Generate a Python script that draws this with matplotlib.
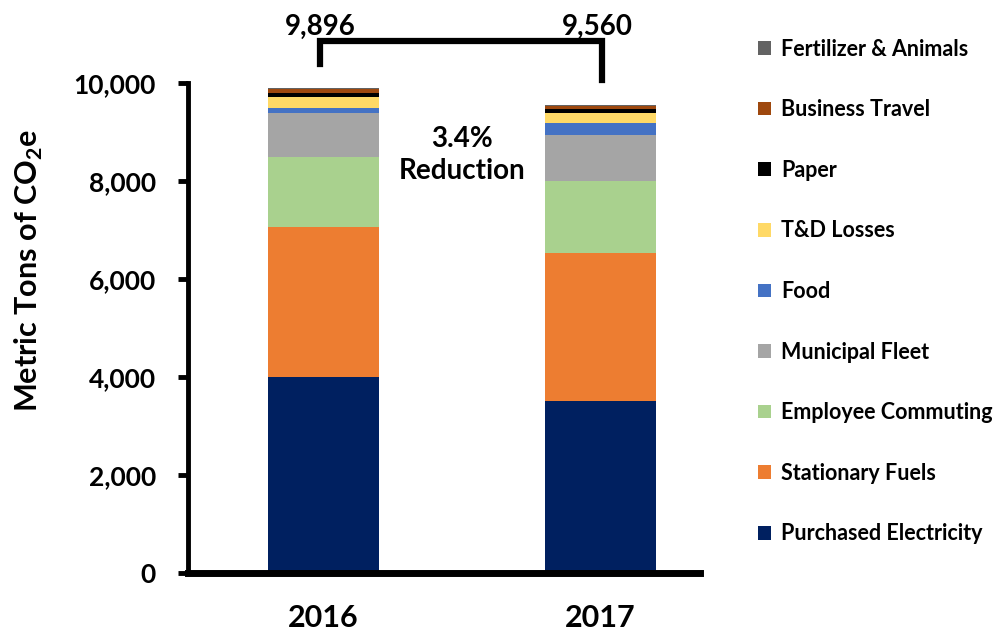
import numpy as np
import matplotlib
matplotlib.use('Agg')
import matplotlib.pyplot as plt
from matplotlib.patches import Patch

plt.rcParams['font.family'] = ['Lato', 'DejaVu Sans']
plt.rcParams['font.weight'] = 'bold'
plt.rcParams['mathtext.fontset'] = 'custom'
plt.rcParams['mathtext.rm'] = 'Lato'
plt.rcParams['mathtext.bf'] = 'Lato:bold'

years = ['2016', '2017']
totals = [9896, 9560]
categories = ['Purchased Electricity', 'Stationary Fuels', 'Employee Commuting',
              'Municipal Fleet', 'Food', 'T&D Losses', 'Paper',
              'Business Travel', 'Fertilizer & Animals']
values_2016 = [4009, 3043, 1438, 895, 110, 215, 90, 75, 21]
values_2017 = [3513, 3017, 1477, 940, 239, 204, 78, 65, 27]
colors = ['#002060', '#ED7D31', '#A9D18E', '#A5A5A5', '#4472C4',
          '#FFD966', '#000000', '#9E480E', '#636363']

data = np.array([values_2016, values_2017]).T
x = np.arange(len(years))

fig = plt.figure(figsize=(10, 6.36), dpi=100)
ax = fig.add_axes([0.188, 0.099, 0.512, 0.7705])

bottom = np.zeros(len(years))
for i, cat in enumerate(categories):
    ax.bar(x, data[i], 0.40, bottom=bottom, color=colors[i], label=cat,
           edgecolor='none')
    bottom += data[i]

ax.set_xlim(-0.489, 1.359)
ax.set_ylim(0, 10000)
ax.set_yticks(np.arange(0, 10001, 2000))
ax.set_yticklabels([f'{v:,}' for v in range(0, 10001, 2000)], fontsize=19, fontweight='bold')
ax.set_xticks(x)
ax.set_xticklabels(years, fontsize=22, fontweight='bold')
ax.tick_params(axis='x', length=0, pad=22)
ax.tick_params(axis='y', length=7, width=3.5, direction='out', pad=16)
for s in ['top', 'right']:
    ax.spines[s].set_visible(False)
ax.spines['left'].set_linewidth(3.5)
ax.spines['bottom'].set_linewidth(5)

ax.set_ylabel(r'Metric Tons of CO$_{\mathbf{2}}$e', fontsize=22, fontweight='bold')
ax.yaxis.set_label_coords(-0.279, 0.618)

# bracket between totals
ax.plot([-0.013, -0.013, 1.005, 1.005], [10396, 10866, 10866, 10069],
        color='black', lw=4.5, clip_on=False, solid_joinstyle='miter')
for xi, t in zip(x, totals):
    ax.text(xi - 0.01, 11150, f'{t:,}', ha='center', va='center',
            fontsize=20, fontweight='bold')
ax.text(0.5, 8530, '3.4%\nReduction', ha='center', va='center',
        fontsize=20, fontweight='bold', linespacing=1.25)

handles = [Patch(facecolor=c, label=l) for c, l in zip(colors, categories)][::-1]
fig.legend(handles=handles, loc='upper left', bbox_to_anchor=(0.749, 0.953),
           frameon=False, prop={'size': 15.5, 'weight': 'bold'},
           handlelength=0.6, handleheight=0.6, handletextpad=0.5,
           labelspacing=1.84, borderaxespad=0)

fig.savefig('out.png', dpi=100)
